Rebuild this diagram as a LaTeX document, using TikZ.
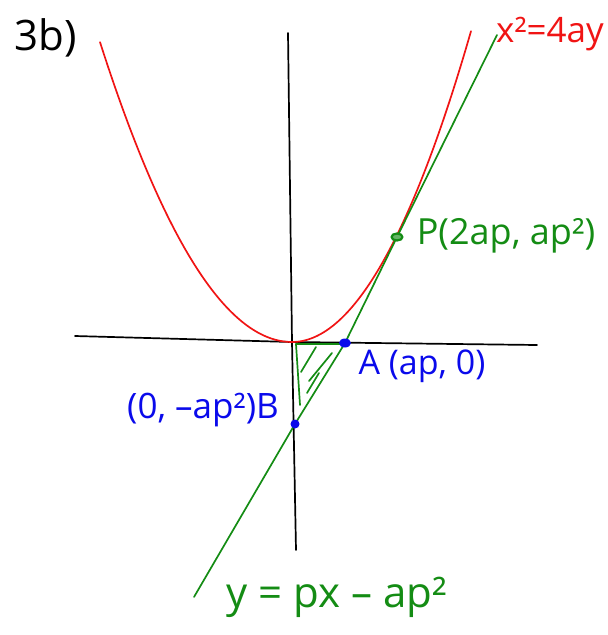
\documentclass[tikz,border=0pt]{standalone}
\usepackage{fontspec}
\setmainfont{Open Sans}
\definecolor{pen red}{RGB}{240,20,20}
\definecolor{pen green}{RGB}{20,140,20}
\definecolor{pen blue}{RGB}{10,10,235}
\begin{document}
\begin{tikzpicture}[x=1pt,y=-1pt,line cap=round,line join=round,
  axis/.style={draw=black,line width=1.7pt},
  curve/.style={draw=pen red,line width=1.7pt},
  tangent/.style={draw=pen green,line width=1.7pt},
  lbl/.style={inner sep=0pt,anchor=center},
]
\useasboundingbox (0,0) rectangle (608,635);
% key points
\coordinate (O) at (292,342);
\coordinate (A) at (345,343);
\coordinate (B) at (295,424);
\coordinate (P) at (397,237);
\coordinate (xl) at (75,336);
\coordinate (xr) at (537,345);
\coordinate (yt) at (288,33);
\coordinate (yb) at (296,550);
\coordinate (Lbot) at (194,597);
\coordinate (Ltop) at (497,35);
% axes
\draw[axis] (xl) -- (O) -- (xr);
\draw[axis] (yt) -- (O) -- (yb);
% parabola
\draw[curve] plot[domain=-192:0,smooth,samples=40] ({292+\x},{342-(0.0902*\x)^2});
\draw[curve] plot[domain=0:179,smooth,samples=40] ({292+\x},{342-(0.0985*\x)^2});
% tangent line
\draw[tangent] (Lbot) -- (B) -- (A) -- (P) -- (Ltop);
% shaded triangle
\coordinate (t1) at (296,344);
\coordinate (t2) at (347,344);
\coordinate (t3) at (300,405);
\draw[tangent] (t1) -- (t2);
\draw[tangent] (t1) -- (t3);
\coordinate (h1a) at (316,347); \coordinate (h1b) at (301,372);
\coordinate (h2a) at (332,353); \coordinate (h2b) at (309,381);
\coordinate (h3a) at (319,373); \coordinate (h3b) at (307,393);
\draw[tangent] (h1a) -- (h1b);
\draw[tangent] (h2a) -- (h2b);
\draw[tangent] (h3a) -- (h3b);
% dots
\fill[pen blue] (A) ellipse (6pt and 4.5pt);
\fill[pen blue] (B) circle (4.5pt);
\draw[pen green,fill=pen green!65,line width=2.2pt] (P) ellipse (5.5pt and 3.5pt);
% labels
\node[lbl,font=\fontsize{42}{42}\selectfont] (t3b) at (46,38) {3b)};
\node[lbl,text=pen red,font=\fontsize{35}{35}\selectfont] (tpar) at (550,34) {x²=4ay};
\node[lbl,text=pen green,font=\fontsize{36}{36}\selectfont] (tP) at (506,236) {P(2ap, ap²)};
\node[lbl,text=pen blue,font=\fontsize{34}{34}\selectfont] (tA) at (422,366) {A (ap, 0)};
\node[lbl,text=pen blue,font=\fontsize{35}{35}\selectfont] (tB) at (203,410) {(0, –ap²)B};
\node[lbl,text=pen green,font=\fontsize{42}{42}\selectfont] (tL) at (337,597) {y = px – ap²};
\end{tikzpicture}
\end{document}
